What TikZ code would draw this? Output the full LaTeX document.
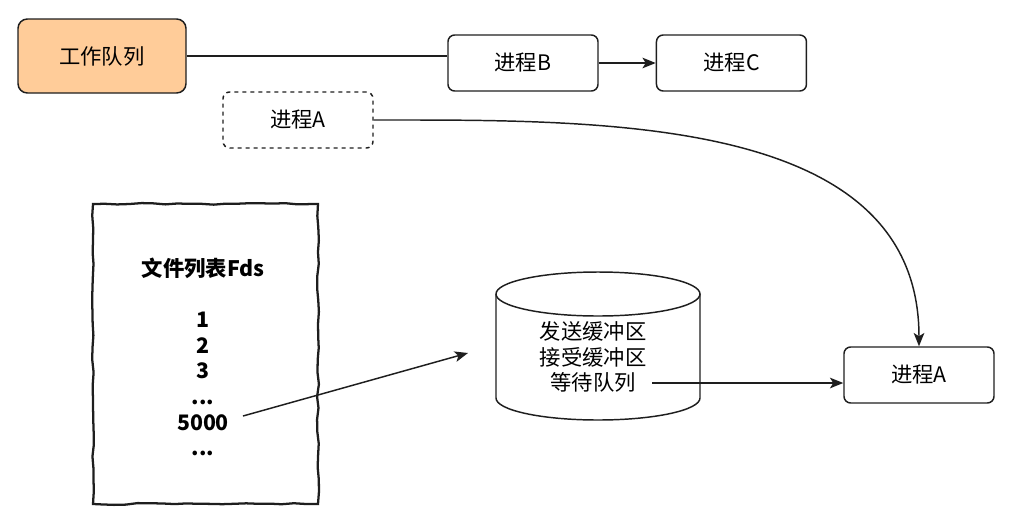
\documentclass[tikz,border=0pt]{standalone}
\usepackage{fontspec}
\setmainfont{Noto Sans CJK SC}
\usetikzlibrary{arrows.meta,positioning,decorations.pathmorphing}
\definecolor{queueorange}{HTML}{FFCC99}
\definecolor{inkgray}{HTML}{1E1E1E}
\tikzset{
  procbox/.style={draw=inkgray, line width=1.1pt, rounded corners=5pt,
                  minimum width=112.5pt, minimum height=42pt,
                  font=\fontsize{16}{19}\selectfont, inner sep=2pt},
  queuebox/.style={procbox, fill=queueorange, rounded corners=7pt,
                   minimum width=126pt, minimum height=55.5pt},
  ghostbox/.style={procbox, dash pattern=on 3pt off 3pt},
  sketchframe/.style={draw=inkgray, line width=1.7pt,
                      decorate, decoration={random steps, segment length=9pt, amplitude=0.7pt}},
  listtext/.style={font=\bfseries\fontsize{16}{19.2}\selectfont, align=center, inner sep=0pt},
  cylline/.style={draw=inkgray, line width=1.1pt},
  conn/.style={inkgray, line width=1.1pt},
  arr/.style={conn, -{Stealth[length=10pt, width=8pt, inset=2.5pt]}}
}
\pgfmathsetseed{7}

\begin{document}
\begin{tikzpicture}[x=0.75pt, y=-0.75pt]
  \useasboundingbox (0,0) rectangle (1022,519);

  % top row
  \node[queuebox] (wq) at (102,56) {工作队列};
  \node[procbox] (pb) at (523,63) {进程B};
  \node[procbox, right=42.75pt of pb] (pc) {进程C};
  \node[ghostbox] (pad) at (298,120) {进程A};

  \draw[conn] (wq.east) -- (wq.east -| pb.west);
  \draw[arr] (pb) -- (pc);

  % file list
  \draw[sketchframe] (93,204) -- (318,204) -- (318,504) -- (93,504) -- cycle;
  \node[listtext] (fdtitle) at (203,268) {文件列表Fds};
  \node[listtext] (fdnums) at (203,384) {1\\2\\3\\...\\5000\\...};
  \coordinate (fdout) at (243,416);
  \coordinate (bufin) at (468,353);
  \draw[arr] (fdout) -- (bufin);

  % buffers
  \draw[cylline] (496,294) -- (496,398) arc[start angle=180, end angle=360, x radius=76.5pt, y radius=16.5pt] -- (700,294);
  \draw[cylline] (598,294) ellipse[x radius=76.5pt, y radius=16.5pt];
  \node[font=\fontsize{16}{19}\selectfont, align=center, inner sep=0pt] (bufs) at (593,357)
    {发送缓冲区\\接受缓冲区\\等待队列};
  \coordinate (qout) at (652,383);

  \node[procbox] (pa) at (919,375) {进程A};
  \draw[arr] (qout) -- (qout -| pa.west);
  \draw[arr] (pad.east) to[out=0, in=90] (pa.north);
\end{tikzpicture}
\end{document}
